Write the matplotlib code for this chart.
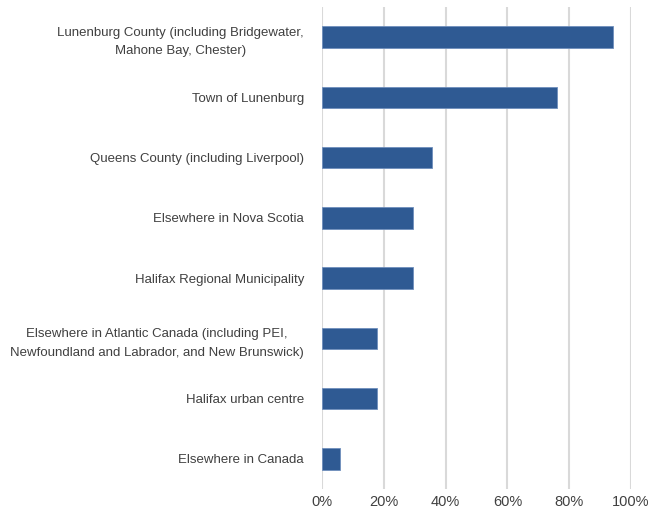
import numpy as np
import matplotlib.pyplot as plt
from matplotlib.ticker import PercentFormatter

plt.rcParams['font.family'] = ['Liberation Sans', 'DejaVu Sans']

places = [
    'Lunenburg County (including Bridgewater,\nMahone Bay, Chester)',
    'Town of Lunenburg',
    'Queens County (including Liverpool)',
    'Elsewhere in Nova Scotia',
    'Halifax Regional Municipality',
    'Elsewhere in Atlantic Canada (including PEI,\nNewfoundland and Labrador, and New Brunswick)',
    'Halifax urban centre',
    'Elsewhere in Canada',
]
shares = [94.2, 75.9, 35.5, 29.4, 29.4, 17.9, 17.9, 5.7]

text_col = '#404040'
bar_col = '#2F5A93'

fig = plt.figure(figsize=(6.5, 5.14), dpi=100)
ax = fig.add_axes([322 / 650, 25 / 514, 309 / 650, 482 / 514])

y = np.arange(len(places))
ax.barh(y, shares, height=0.36, color=bar_col, edgecolor='#6F8FBD', linewidth=0.6, zorder=3)
ax.set_ylim(len(places) - 0.5, -0.5)
ax.set_xlim(0, 100)
ax.set_yticks(y)
ax.set_yticklabels(places, fontsize=9.5, color=text_col, ha='right',
                   multialignment='center', linespacing=1.75)
ax.set_xticks(np.arange(0, 101, 20))
ax.xaxis.set_major_formatter(PercentFormatter(decimals=0))
ax.tick_params(axis='x', labelsize=10.5, labelcolor=text_col, length=0, pad=4)
ax.tick_params(axis='y', length=0, pad=13)
ax.grid(axis='x', color='#D9D9D9', linewidth=1.5, zorder=0)
for s in ax.spines.values():
    s.set_visible(False)

fig.savefig('out.png', dpi=100)
